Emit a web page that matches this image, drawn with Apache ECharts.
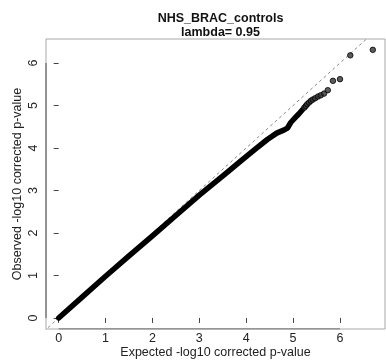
<!DOCTYPE html>
<html><head><meta charset="utf-8">
<script src="https://cdn.jsdelivr.net/npm/echarts@6/dist/echarts.min.js"></script>
<style>html,body{margin:0;padding:0;background:#fff}#c{width:386px;height:362px}</style>
</head><body><div id="c"></div>
<script>
// Dense body of the QQ plot (expected, observed -log10 p)
const bodyExpected = [0, 0.5, 1, 1.5, 2, 2.5, 3, 3.3, 3.6, 3.9, 4.2, 4.45, 4.65, 4.8, 4.88, 4.95, 5.05, 5.12, 5.2];
const bodyObserved = [0, 0.49, 0.98, 1.46, 1.93, 2.41, 2.89, 3.16, 3.43, 3.71, 3.98, 4.2, 4.35, 4.42, 4.47, 4.6, 4.72, 4.8, 4.9];
// Individually visible tail points
const tailExpected = [5.24, 5.27, 5.30, 5.34, 5.38, 5.42, 5.47, 5.53, 5.59, 5.66, 5.74, 5.85, 6.0, 6.22, 6.70];
const tailObserved = [4.95, 4.99, 5.03, 5.07, 5.11, 5.14, 5.17, 5.21, 5.24, 5.28, 5.36, 5.58, 5.62, 6.18, 6.31];
const tickValues = [0, 1, 2, 3, 4, 5, 6];
const titleText = 'NHS_BRAC_controls\nlambda= 0.95';
const xName = 'Expected -log10 corrected p-value';
const yName = 'Observed -log10 corrected p-value';
const X_MIN = -0.27, X_MAX = 6.96, Y_MIN = -0.26, Y_MAX = 6.565;

const FONT = "'Liberation Sans', Arial, Helvetica, sans-serif";
const chart = echarts.init(document.getElementById('c'), null, {renderer: 'canvas'});
const body = bodyExpected.map((e, i) => [e, bodyObserved[i]]);
const tail = tailExpected.map((e, i) => [e, tailObserved[i]]);
const axisCommon = {
  axisLine: {show: false},
  splitLine: {show: false},
  axisTick: {show: true, length: 5, lineStyle: {color: '#444'}, customValues: tickValues},
  nameLocation: 'middle',
  nameMoveOverlap: false,
  nameTextStyle: {fontFamily: FONT, fontSize: 12.5, color: '#222'}
};
chart.setOption({
  animation: false,
  title: {
    text: titleText, left: 215.5, top: 7, textAlign: 'center',
    textStyle: {fontFamily: FONT, fontSize: 12.5, fontWeight: 'bold', color: '#111', lineHeight: 14}
  },
  grid: {left: 46, top: 39, width: 339, height: 290, show: true, borderColor: '#a8a8a8', borderWidth: 1,
         containLabel: false, outerBoundsMode: 'none'},
  xAxis: Object.assign({}, axisCommon, {
    type: 'value', min: X_MIN, max: X_MAX, name: xName, nameGap: 17,
    axisLabel: {customValues: tickValues, margin: 3, fontFamily: FONT, fontSize: 12.5, color: '#222'}
  }),
  yAxis: Object.assign({}, axisCommon, {
    type: 'value', min: Y_MIN, max: Y_MAX, name: yName, nameGap: 22,
    axisLabel: {customValues: tickValues, rotate: 90, margin: 6, fontFamily: FONT, fontSize: 12.5, color: '#222', align: 'center', verticalAlign: 'bottom'}
  }),
  series: [
    {type: 'line', data: [[X_MIN - 1, X_MIN - 1], [X_MAX + 1, X_MAX + 1]], showSymbol: false, silent: true,
     lineStyle: {color: '#888', width: 1, type: [3, 3]}, z: 1},
    {type: 'line', data: [[tickValues[0], Y_MIN], [tickValues[tickValues.length - 1], Y_MIN]], showSymbol: false, silent: true,
     lineStyle: {color: '#555', width: 1}, z: 3},
    {type: 'line', data: [[X_MIN, tickValues[0]], [X_MIN, tickValues[tickValues.length - 1]]], showSymbol: false, silent: true,
     lineStyle: {color: '#555', width: 1}, z: 3},
    {type: 'line', data: body, showSymbol: false, smooth: false,
     lineStyle: {color: '#000', width: 5.5, cap: 'round', join: 'round'}, z: 2},
    {type: 'scatter', data: tail, symbol: 'circle', symbolSize: 5.5,
     itemStyle: {color: '#333', borderColor: '#000', borderWidth: 1}, z: 2}
  ]
});
</script></body></html>
